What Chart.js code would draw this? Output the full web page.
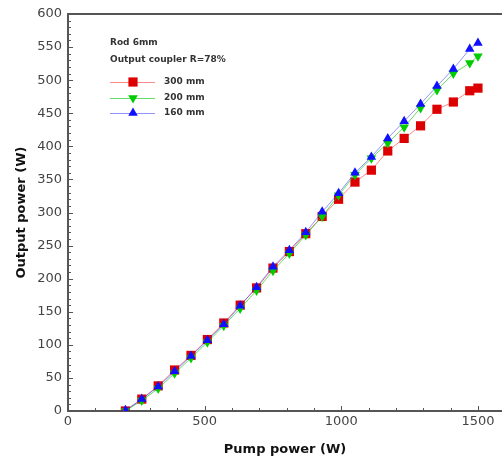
<!DOCTYPE html>
<html>
<head>
<meta charset="utf-8">
<script src="https://cdn.jsdelivr.net/npm/chart.js@4.4.1/dist/chart.umd.min.js"></script>
<style>
  html, body { margin: 0; padding: 0; background: #fff; }
  #wrap { width: 502px; height: 459px; }
</style>
</head>
<body>
<div id="wrap"><canvas id="c" width="502" height="459"></canvas></div>
<script>
// pump power (W)
const pumpPower = [210, 270, 330, 390, 450, 510, 570, 630, 690, 750, 810, 870, 930, 990, 1050, 1110, 1170, 1230, 1290, 1350, 1410, 1470, 1500];
// output power (W) per cavity length
const out300 = [0, 18, 38, 62, 84, 108, 133, 160, 186, 216, 241, 268, 294, 320, 346, 364, 393, 412, 431, 456, 467, 484, 488];
const out200 = [0, 16, 34, 57, 80, 104, 129, 155, 182, 212, 238, 266, 294, 326, 357, 382, 405, 429, 458, 485, 510, 526, 536];
const out160 = [1, 18, 37, 60, 83, 107, 131, 159, 187, 218, 243, 270, 301, 329, 360, 384, 412, 438, 464, 491, 517, 547, 556];
const seriesNames = ['300 mm', '200 mm', '160 mm'];
const xTicks = [0, 500, 1000, 1500];
const noteLines = ['Rod 6mm', 'Output coupler R=78%'];

const FONT = '"DejaVu Sans", Verdana, sans-serif';
const toPts = ys => ys.map((y, i) => ({ x: pumpPower[i], y }));

// ticks drawn inward, plus minor ticks and top frame
const frameTicks = {
  id: 'frameTicks',
  afterDatasetsDraw(chart) {
    const { ctx, chartArea: a, scales: { x, y } } = chart;
    ctx.save();
    ctx.strokeStyle = '#555';
    ctx.lineWidth = 1;
    ctx.beginPath();
    for (let v = 0; v <= 1580; v += 100) {
      const px = Math.round(x.getPixelForValue(v)) + 0.5;
      const len = v % 500 === 0 ? 5 : 3;
      ctx.moveTo(px, a.bottom); ctx.lineTo(px, a.bottom - len);
    }
    for (let v = 0; v <= 600; v += 10) {
      const py = Math.round(y.getPixelForValue(v)) + 0.5;
      const len = v % 50 === 0 ? 5 : 3;
      ctx.moveTo(a.left, py); ctx.lineTo(a.left + len, py);
    }
    ctx.stroke();
    ctx.lineWidth = 2;
    ctx.beginPath();
    ctx.moveTo(a.left - 1, a.top); ctx.lineTo(a.right, a.top);
    ctx.stroke();
    ctx.restore();
  }
};

function marker(ctx, style, cx, cy, r, color) {
  ctx.fillStyle = color;
  ctx.beginPath();
  if (style === 'rect') {
    const s = r * Math.SQRT1_2;
    ctx.rect(cx - s, cy - s, 2 * s, 2 * s);
  } else {
    const dir = style === 'down' ? -1 : 1;
    ctx.moveTo(cx, cy - dir * r);
    ctx.lineTo(cx + r * 0.866, cy + dir * r * 0.5);
    ctx.lineTo(cx - r * 0.866, cy + dir * r * 0.5);
    ctx.closePath();
  }
  ctx.fill();
}

const noteLegend = {
  id: 'noteLegend',
  afterDraw(chart) {
    const { ctx } = chart;
    ctx.save();
    ctx.font = 'bold 9px ' + FONT;
    ctx.fillStyle = '#333';
    ctx.textBaseline = 'middle';
    ctx.fillText(noteLines[0], 110, 43);
    ctx.fillText(noteLines[1], 110, 60);
    const rows = [82, 98, 113];
    const styles = ['rect', 'down', 'up'];
    chart.data.datasets.forEach((ds, i) => {
      const yy = rows[i];
      ctx.strokeStyle = ds.borderColor;
      ctx.lineWidth = 1;
      ctx.beginPath(); ctx.moveTo(110, yy + 0.5); ctx.lineTo(155, yy + 0.5); ctx.stroke();
      marker(ctx, styles[i], 133, yy, ds.pointRadius, ds.pointBackgroundColor);
      ctx.fillStyle = '#333';
      ctx.fillText(seriesNames[i], 164, yy);
    });
    ctx.restore();
  }
};

const tickFont = { family: FONT, size: 13 };
const titleFont = { family: FONT, size: 13, weight: 'bold' };

new Chart(document.getElementById('c'), {
  type: 'line',
  data: {
    datasets: [
      { label: seriesNames[0], data: toPts(out300), borderColor: 'rgba(255,60,60,0.6)', borderWidth: 1,
        pointStyle: 'rect', pointRadius: 6.5, pointBackgroundColor: '#dd0000', pointBorderWidth: 0, order: 3 },
      { label: seriesNames[1], data: toPts(out200), borderColor: 'rgba(0,200,0,0.6)', borderWidth: 1,
        pointStyle: 'triangle', pointRotation: 180, pointRadius: 5.5, pointBackgroundColor: '#00cc00', pointBorderWidth: 0, order: 2 },
      { label: seriesNames[2], data: toPts(out160), borderColor: 'rgba(40,40,255,0.5)', borderWidth: 1,
        pointStyle: 'triangle', pointRadius: 5.5, pointBackgroundColor: '#1010ff', pointBorderWidth: 0, order: 1 },
    ],
  },
  options: {
    responsive: false, animation: false,
    layout: { autoPadding: false, padding: { top: 14, right: 0, left: 0, bottom: 0 } },
    plugins: { legend: { display: false }, tooltip: { enabled: false } },
    scales: {
      x: {
        type: 'linear', min: 0, max: 1588,
        afterBuildTicks: s => { s.ticks = xTicks.map(v => ({ value: v })); },
        afterFit: s => { s.height = 48; s.paddingRight = 0; s.paddingLeft = 0; },
        grid: { display: false, drawTicks: false },
        border: { display: true, color: '#555', width: 2 },
        ticks: { font: tickFont, color: '#444', padding: 3, maxRotation: 0, callback: v => String(v) },
        title: { display: true, text: 'Pump power (W)', font: titleFont, color: '#111', padding: { top: 0, bottom: 2 } },
      },
      y: {
        min: 0, max: 600,
        afterFit: s => { s.width = 68; s.paddingTop = 0; s.paddingBottom = 0; },
        grid: { display: false, drawTicks: false },
        border: { display: true, color: '#555', width: 2 },
        ticks: { stepSize: 50, font: tickFont, color: '#444', padding: 6 },
        title: { display: true, text: 'Output power (W)', font: titleFont, color: '#111', padding: { top: 14, bottom: 0 } },
      },
    },
  },
  plugins: [frameTicks, noteLegend],
});
</script>
</body>
</html>
